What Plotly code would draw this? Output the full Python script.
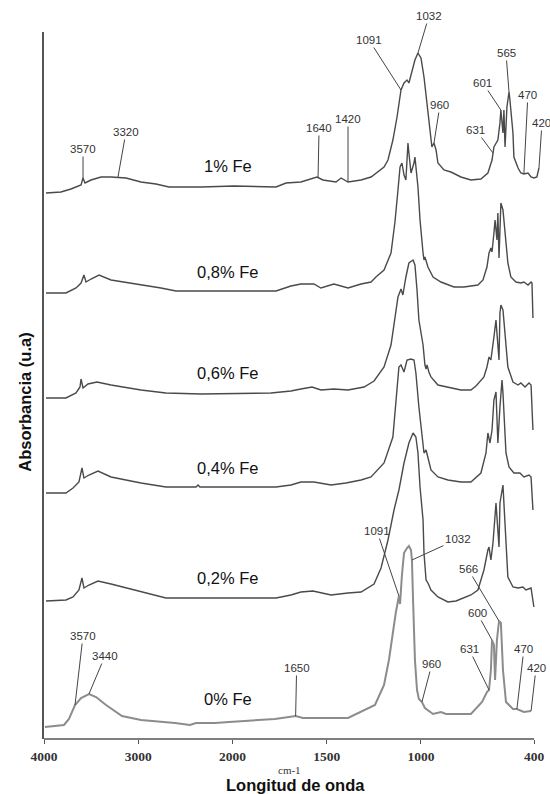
import plotly.graph_objects as go

# ---------------- data (wavenumber cm-1, stacked absorbance u.a.) ----------------
wn_1 = [3979, 3820, 3714, 3607, 3586, 3565, 3501, 3395, 3289, 3130, 2971, 2812, 2674, 2334, 1992, 1769,
        1716, 1637, 1552, 1520, 1451, 1424, 1387, 1318, 1265, 1239, 1196, 1175, 1149, 1127, 1106, 1090,
        1074, 1064, 1048, 1032, 1016, 1000, 984, 968, 952, 942, 931, 920, 910, 878, 841, 788, 735, 682,
        645, 623, 613, 607, 592, 581, 576, 565, 560, 554, 544, 533, 528, 512, 507, 485, 470, 454, 432,
        416, 401, 385, 374]
ab_1 = [5.44, 5.45, 5.48, 5.52, 5.59, 5.54, 5.57, 5.60, 5.60, 5.59, 5.55, 5.53, 5.50, 5.50, 5.51, 5.50,
        5.54, 5.55, 5.60, 5.57, 5.55, 5.59, 5.55, 5.57, 5.60, 5.64, 5.70, 5.77, 5.97, 6.20, 6.47, 6.54,
        6.57, 6.54, 6.65, 6.77, 6.84, 6.79, 6.60, 6.34, 6.07, 5.90, 5.94, 5.87, 5.74, 5.67, 5.65, 5.60,
        5.57, 5.58, 5.64, 5.77, 5.90, 5.92, 5.97, 6.14, 6.27, 6.04, 6.27, 5.90, 6.30, 6.45, 6.37, 6.04,
        5.80, 5.69, 5.64, 5.63, 5.64, 5.60, 5.59, 5.60, 5.69]

wn_08 = [3979, 3767, 3660, 3607, 3576, 3554, 3501, 3416, 3289, 3077, 2759, 2599, 2016, 1769, 1690, 1637,
         1568, 1531, 1462, 1387, 1318, 1265, 1239, 1196, 1159, 1138, 1122, 1111, 1101, 1090, 1080, 1069,
         1064, 1053, 1037, 1032, 1016, 1005, 989, 984, 979, 963, 936, 894, 825, 772, 698, 671, 650, 639,
         629, 623, 613, 607, 597, 592, 586, 576, 565, 554, 539, 523, 496, 470, 454, 432, 416, 411, 406]
ab_08 = [4.44, 4.44, 4.49, 4.54, 4.62, 4.55, 4.58, 4.62, 4.57, 4.54, 4.49, 4.46, 4.46, 4.46, 4.51, 4.53,
         4.53, 4.49, 4.53, 4.49, 4.53, 4.55, 4.60, 4.67, 4.84, 5.15, 5.47, 5.70, 5.74, 5.62, 5.57, 5.94,
         5.84, 5.64, 5.74, 5.80, 5.50, 5.17, 4.84, 4.77, 4.80, 4.70, 4.60, 4.55, 4.50, 4.50, 4.52, 4.57,
         4.70, 4.84, 4.89, 4.85, 5.04, 5.17, 4.97, 5.24, 4.79, 5.34, 5.27, 5.04, 4.74, 4.60, 4.55, 4.54,
         4.55, 4.52, 4.55, 4.54, 4.19]

wn_06 = [3979, 3767, 3660, 3618, 3607, 3586, 3533, 3438, 3289, 2971, 2706, 2334, 1796, 1690, 1637, 1578,
         1531, 1462, 1387, 1302, 1249, 1196, 1159, 1143, 1122, 1106, 1096, 1080, 1064, 1042, 1032, 1021,
         1011, 989, 979, 973, 968, 958, 947, 910, 857, 788, 735, 708, 666, 650, 639, 629, 613, 602, 597,
         586, 581, 576, 565, 554, 539, 512, 485, 470, 448, 427, 416, 406]
ab_06 = [3.39, 3.39, 3.44, 3.50, 3.58, 3.49, 3.53, 3.55, 3.52, 3.47, 3.44, 3.43, 3.44, 3.46, 3.48, 3.50,
         3.47, 3.48, 3.47, 3.50, 3.56, 3.70, 3.92, 4.12, 4.40, 4.48, 4.42, 4.60, 4.74, 4.77, 4.72, 4.47,
         4.17, 3.92, 3.72, 3.68, 3.72, 3.65, 3.60, 3.52, 3.50, 3.47, 3.47, 3.51, 3.60, 3.70, 3.80, 3.77,
         4.00, 4.17, 4.04, 3.77, 4.24, 4.32, 4.27, 4.00, 3.70, 3.55, 3.52, 3.54, 3.50, 3.54, 3.52, 3.07]

wn_04 = [3979, 3767, 3692, 3629, 3597, 3576, 3523, 3427, 3289, 2971, 2706, 2387, 2366, 2345, 2016, 1769,
         1690, 1637, 1568, 1477, 1398, 1318, 1265, 1196, 1149, 1133, 1117, 1106, 1090, 1074, 1053, 1037,
         1027, 1011, 989, 984, 973, 963, 947, 910, 857, 788, 735, 682, 655, 645, 634, 623, 613, 602, 597,
         592, 581, 570, 565, 560, 549, 533, 507, 475, 454, 427, 416, 406]
ab_04 = [2.44, 2.44, 2.49, 2.55, 2.69, 2.59, 2.62, 2.66, 2.60, 2.54, 2.50, 2.50, 2.52, 2.50, 2.50, 2.50,
         2.52, 2.55, 2.55, 2.52, 2.54, 2.57, 2.60, 2.74, 3.00, 3.34, 3.70, 3.72, 3.65, 3.77, 3.78, 3.77,
         3.64, 3.30, 2.97, 2.84, 2.87, 2.80, 2.67, 2.60, 2.57, 2.55, 2.55, 2.64, 2.84, 3.04, 2.94, 3.07,
         3.37, 3.45, 3.24, 2.94, 3.30, 3.57, 3.44, 3.20, 2.84, 2.70, 2.64, 2.64, 2.60, 2.62, 2.60, 2.27]

wn_02 = [3979, 3767, 3692, 3629, 3597, 3576, 3523, 3427, 3289, 2971, 2706, 2334, 1769, 1690, 1637, 1573,
         1477, 1387, 1318, 1249, 1212, 1175, 1143, 1117, 1090, 1064, 1042, 1027, 1016, 1005, 989, 984,
         973, 963, 947, 910, 857, 814, 735, 698, 666, 645, 639, 629, 618, 602, 592, 586, 581, 565, 560,
         549, 539, 512, 485, 459, 443, 416, 401]
ab_02 = [1.36, 1.37, 1.40, 1.47, 1.59, 1.49, 1.52, 1.56, 1.53, 1.45, 1.39, 1.39, 1.39, 1.42, 1.45, 1.46,
         1.42, 1.44, 1.45, 1.53, 1.69, 1.97, 2.27, 2.47, 2.74, 2.94, 3.04, 3.00, 2.84, 2.50, 2.17, 1.84,
         1.57, 1.54, 1.47, 1.40, 1.35, 1.36, 1.42, 1.47, 1.67, 1.87, 1.90, 1.77, 1.94, 2.34, 2.07, 1.90,
         2.34, 2.52, 2.34, 1.94, 1.60, 1.50, 1.49, 1.50, 1.47, 1.49, 1.30]

wn_0 = [3990, 3788, 3735, 3671, 3607, 3523, 3448, 3342, 3172, 2971, 2610, 2451, 2387, 2186, 2037, 1775,
        1665, 1626, 1584, 1387, 1244, 1196, 1170, 1149, 1133, 1117, 1111, 1101, 1090, 1074, 1064, 1053,
        1048, 1042, 1032, 1021, 1011, 995, 979, 936, 894, 867, 735, 676, 650, 639, 629, 623, 613, 607,
        597, 586, 576, 565, 549, 512, 491, 454, 416]
ab_0 = [0.10, 0.12, 0.18, 0.32, 0.39, 0.43, 0.40, 0.32, 0.21, 0.17, 0.14, 0.12, 0.14, 0.14, 0.15, 0.18,
        0.21, 0.19, 0.19, 0.19, 0.32, 0.52, 0.77, 1.07, 1.25, 1.41, 1.33, 1.62, 1.84, 1.89, 1.91, 1.87,
        1.77, 1.37, 0.77, 0.47, 0.38, 0.35, 0.29, 0.23, 0.25, 0.23, 0.23, 0.35, 0.45, 0.47, 0.67, 0.97,
        0.92, 0.57, 0.97, 1.16, 1.14, 0.67, 0.35, 0.28, 0.28, 0.25, 0.26]

sample_labels = ["1% Fe", "0,8% Fe", "0,6% Fe", "0,4% Fe", "0,2% Fe", "0% Fe"]
label_ab = [5.71, 4.65, 3.64, 2.69, 1.59, 0.38]
label_wn = 2050

tick_wn = [4000, 3000, 2000, 1500, 1000, 400]

# peak labels of the 1% Fe spectrum
peaks_1_text = ["3570", "3320", "1640", "1420", "1091", "1032", "960", "631", "601", "565", "470", "420"]
peaks_1_wn = [3586, 3215, 1546, 1387, 1106, 1016, 931, 618, 576, 533, 454, 374]
peaks_1_ab = [5.59, 5.60, 5.60, 5.55, 6.47, 6.84, 5.94, 5.84, 6.27, 6.45, 5.63, 5.69]

# peak labels of the 0% Fe spectrum
peaks_0_text = ["3570", "3440", "1650", "1091", "1032", "960", "631", "600", "566", "470", "420"]
peaks_0_wn = [3671, 3523, 1665, 1117, 1048, 995, 639, 623, 586, 491, 416]
peaks_0_ab = [0.32, 0.43, 0.21, 1.41, 1.77, 0.35, 0.47, 0.97, 1.16, 0.28, 0.26]

# ---------------- layout helpers (label offsets in px) ----------------
offsets_1 = [(0, -29), (8, -45), (1, -49), (0, -63), (-32, -50), (11, -37), (6, -38),
             (-17, -23), (-18, -27), (-3, -39), (4, -79), (3, -45)]
offsets_0 = [(8, -69), (16, -38), (1, -48), (-22, -65), (46, -21), (10, -38),
             (-20, -41), (-15, -27), (-31, -52), (7, -60), (5, -43)]


def xf(w):
    """FTIR axis: 4000-2000 cm-1 at half the scale of 2000-400 cm-1."""
    return (4000 - w) / 2 if w >= 2000 else 1000 + (2000 - w)


XMAX = 2658

series = [(wn_1, ab_1), (wn_08, ab_08), (wn_06, ab_06), (wn_04, ab_04), (wn_02, ab_02), (wn_0, ab_0)]
colors = ["#4a4a4a"] * 5 + ["#8c8c8c"]
widths = [1.4] * 5 + [2.0]

fig = go.Figure()
for (wn, ab), c, lw in zip(series, colors, widths):
    fig.add_trace(go.Scatter(x=[xf(w) for w in wn], y=ab, mode="lines",
                             line=dict(color=c, width=lw), showlegend=False, hoverinfo="skip"))

annotations = []
for txt, yv in zip(sample_labels, label_ab):
    annotations.append(dict(x=xf(label_wn), y=yv, xref="x", yref="y", text=txt, showarrow=False,
                            font=dict(family="Liberation Sans", size=16.5, color="#111")))

for texts, wns, abs_, offs in [(peaks_1_text, peaks_1_wn, peaks_1_ab, offsets_1),
                               (peaks_0_text, peaks_0_wn, peaks_0_ab, offsets_0)]:
    for t, w, a, (ax, ay) in zip(texts, wns, abs_, offs):
        annotations.append(dict(x=xf(w), y=a, xref="x", yref="y", text=t, showarrow=True,
                                arrowhead=0, arrowwidth=1, arrowcolor="#444", standoff=0,
                                ax=ax, ay=ay, font=dict(family="Liberation Sans", size=11.5, color="#333")))

annotations.append(dict(x=-0.038, y=0.477, xref="paper", yref="paper", text="<b>Absorbancia (u.a)</b>",
                        textangle=-90, showarrow=False, xanchor="center", yanchor="middle",
                        font=dict(family="Liberation Sans", size=16.5, color="#111")))
annotations.append(dict(x=0.491, y=0, xref="paper", yref="paper", text="cm-1", showarrow=False,
                        xanchor="center", yanchor="middle", yshift=-31,
                        font=dict(family="Liberation Serif", size=11, color="#333")))
annotations.append(dict(x=0.501, y=0, xref="paper", yref="paper", text="<b>Longitud de onda</b>",
                        showarrow=False, xanchor="center", yanchor="middle", yshift=-46,
                        font=dict(family="Liberation Sans", size=16.5, color="#111")))

fig.update_layout(
    width=550, height=794,
    margin=dict(l=44, r=5, t=32, b=55),
    paper_bgcolor="white", plot_bgcolor="white",
    showlegend=False,
    xaxis=dict(range=[0, XMAX], showgrid=False, zeroline=False, showline=False,
               tickvals=[xf(t) for t in tick_wn], ticktext=[str(t) for t in tick_wn],
               ticks="outside", ticklen=4, tickwidth=1, tickcolor="#555",
               tickfont=dict(family="Liberation Serif", size=13.5, color="#333", weight="bold"),
               ticklabelstandoff=1),
    yaxis=dict(range=[-0.02, 7.05], showgrid=False, zeroline=False, showline=True,
               linecolor="#555", linewidth=1.5, showticklabels=False, ticks=""),
    annotations=annotations,
)
fig.add_shape(type="line", xref="paper", yref="paper", x0=0, x1=xf(400) / XMAX, y0=0, y1=0,
              line=dict(color="#555", width=1.5))

fig.write_html("out.html")
